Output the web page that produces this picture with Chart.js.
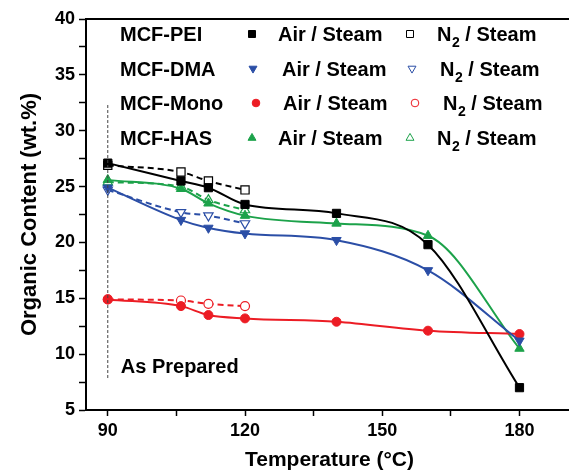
<!DOCTYPE html>
<html><head><meta charset="utf-8">
<script src="https://cdn.jsdelivr.net/npm/chart.js@4.4.1/dist/chart.umd.min.js"></script>
<style>html,body{margin:0;padding:0;background:#fff;overflow:hidden;width:569px;height:471px}canvas{display:block}</style>
</head><body>
<canvas id="c" width="580" height="471" style="width:580px;height:471px"></canvas>
<script>
// ---- data ----
const temperaturesAir = [90, 106, 112, 120, 140, 160, 180];
const temperaturesN2 = [90, 106, 112, 120];

const peiAir  = [27.1, 25.5, 24.9, 23.4, 22.6, 19.8, 7.0];
const peiN2   = [26.9, 26.3, 25.5, 24.7];
const dmaAir  = [24.9, 22.0, 21.3, 20.8, 20.2, 17.5, 11.2];
const dmaN2   = [24.7, 22.7, 22.4, 21.7];
const monoAir = [14.9, 14.3, 13.5, 13.2, 12.9, 12.1, 11.8];
const monoN2  = [14.9, 14.8, 14.5, 14.3];
const hasAir  = [25.6, 24.8, 23.5, 22.4, 21.7, 20.6, 10.5];
const hasN2   = [25.4, 25.0, 23.8, 22.9];

const sampleNames = ['MCF-PEI', 'MCF-DMA', 'MCF-Mono', 'MCF-HAS'];
const airLabel = 'Air / Steam';
const n2LabelParts = ['N', '2', ' / Steam'];

const xTickValues = [90, 105, 120, 135, 150, 165, 180];
const xLabelValues = [90, 120, 150, 180];
const yTickValues = [5, 7.5, 10, 12.5, 15, 17.5, 20, 22.5, 25, 27.5, 30, 32.5, 35, 37.5, 40];
const yLabelValues = [5, 10, 15, 20, 25, 30, 35, 40];

const asPreparedTemp = [90, 90];
const asPreparedRange = [32.3, 7.8];
const asPreparedText = 'As Prepared';
const xTitle = 'Temperature (°C)';
const yTitle = 'Organic Content (wt.%)';

// ---- styling ----
const FONT = "'Liberation Sans', Arial, Helvetica, sans-serif";
const series = [
  { name: sampleNames[0], color: '#000000', style: 'rect',     rot: 0,   r: 5.8, air: peiAir,  n2: peiN2 },
  { name: sampleNames[1], color: '#2B4EA6', style: 'triangle', rot: 180, r: 5.4, air: dmaAir,  n2: dmaN2 },
  { name: sampleNames[2], color: '#EC1C24', style: 'circle',   rot: 0,   r: 4.5, air: monoAir, n2: monoN2 },
  { name: sampleNames[3], color: '#1CA24A', style: 'triangle', rot: 0,   r: 5.4, air: hasAir,  n2: hasN2 }
];

const datasets = [];
datasets.push({
  data: asPreparedTemp.map((t, i) => ({ x: t, y: asPreparedRange[i] })),
  borderColor: '#444', borderWidth: 1, borderDash: [3, 2], pointRadius: 0, tension: 0
});
series.forEach(s => {
  datasets.push({
    label: s.name + ' ' + airLabel,
    data: temperaturesAir.map((t, i) => ({ x: t, y: s.air[i] })),
    borderColor: s.color, backgroundColor: s.color, borderWidth: 2,
    pointStyle: s.style, rotation: s.rot, pointRadius: s.r,
    pointBackgroundColor: s.color, pointBorderColor: s.color, pointBorderWidth: 1,
    cubicInterpolationMode: 'monotone'
  });
  datasets.push({
    label: s.name + ' N2 / Steam',
    data: temperaturesN2.map((t, i) => ({ x: t, y: s.n2[i] })),
    borderColor: s.color, backgroundColor: '#fff', borderWidth: 2, borderDash: [6, 4],
    pointStyle: s.style, rotation: s.rot, pointRadius: s.r,
    pointBackgroundColor: '#fff', pointBorderColor: s.color, pointBorderWidth: 1.2,
    cubicInterpolationMode: 'monotone'
  });
});

const overlay = {
  id: 'overlay',
  afterDraw(chart) {
    const ctx = chart.ctx;
    const ca = chart.chartArea;
    ctx.save();
    // top frame line
    ctx.strokeStyle = '#000'; ctx.lineWidth = 2;
    ctx.beginPath(); ctx.moveTo(ca.left - 1, ca.top); ctx.lineTo(ca.right + 2, ca.top); ctx.stroke();

    // legend
    const rowsY = [41, 75.5, 110, 145];
    const mk1 = [252, 253, 256, 252];
    const airX = [278, 282, 283, 278];
    const mk2 = [410, 412, 415, 410];
    const n2X = [437, 440, 443, 437];
    ctx.textBaseline = 'alphabetic';
    ctx.textAlign = 'left';
    series.forEach((s, i) => {
      const y = rowsY[i];
      ctx.fillStyle = '#000';
      ctx.font = 'bold 20px ' + FONT;
      ctx.fillText(s.name, 120, y);
      ctx.fillText(airLabel, airX[i], y);
      let x = n2X[i];
      ctx.fillText(n2LabelParts[0], x, y);
      x += ctx.measureText(n2LabelParts[0]).width + 0.5;
      ctx.font = 'bold 14px ' + FONT;
      ctx.fillText(n2LabelParts[1], x, y + 6);
      x += ctx.measureText(n2LabelParts[1]).width;
      ctx.font = 'bold 20px ' + FONT;
      ctx.fillText(n2LabelParts[2], x, y);
      // markers
      ctx.fillStyle = s.color; ctx.strokeStyle = s.color; ctx.lineWidth = 1;
      Chart.helpers.drawPoint(ctx, { pointStyle: s.style, rotation: s.rot, radius: s.r * 0.85, borderWidth: 1 }, mk1[i], y - 7);
      ctx.fillStyle = '#fff'; ctx.strokeStyle = s.color; ctx.lineWidth = 1;
      Chart.helpers.drawPoint(ctx, { pointStyle: s.style, rotation: s.rot, radius: s.r * 0.85, borderWidth: 1 }, mk2[i], y - 7);
    });

    // annotation
    ctx.fillStyle = '#000';
    ctx.font = 'bold 20px ' + FONT;
    ctx.fillText(asPreparedText, chart.scales.x.getPixelForValue(90) + 13, 373);
    ctx.restore();
  }
};

new Chart(document.getElementById('c'), {
  type: 'line',
  data: { datasets },
  plugins: [overlay],
  options: {
    responsive: false, animation: false, devicePixelRatio: 1,
    layout: { padding: { top: 19, right: 2, left: 0, bottom: 0 } },
    plugins: { legend: { display: false }, tooltip: { enabled: false } },
    scales: {
      x: {
        type: 'linear', min: 85.24, max: 191.7,
        afterBuildTicks: s => { s.ticks = xTickValues.map(v => ({ value: v })); },
        afterFit: s => { s.height = 61; },
        ticks: {
          autoSkip: false, maxRotation: 0, padding: 4, color: '#000',
          font: { family: FONT, size: 18, weight: 'bold' },
          callback: v => xLabelValues.includes(v) ? String(v) : ''
        },
        grid: { drawOnChartArea: false, drawTicks: true, tickLength: 6, tickWidth: 1.5, tickColor: '#000' },
        border: { display: true, color: '#000', width: 2 },
        title: { display: true, text: xTitle, color: '#000', font: { family: FONT, size: 21, weight: 'bold', lineHeight: 1 }, padding: { top: 0, bottom: 0 } }
      },
      y: {
        type: 'linear', min: 5, max: 40,
        afterBuildTicks: s => { s.ticks = yTickValues.map(v => ({ value: v })); },
        afterFit: s => { s.width = 86; },
        ticks: {
          autoSkip: false, padding: 4, color: '#000',
          font: { family: FONT, size: 18, weight: 'bold' },
          callback: v => yLabelValues.includes(v) ? String(v) : ''
        },
        grid: { drawOnChartArea: false, drawTicks: true, tickLength: 7, tickWidth: 1.5, tickColor: '#000' },
        border: { display: true, color: '#000', width: 2 },
        title: { display: true, text: yTitle, color: '#000', font: { family: FONT, size: 22, weight: 'bold', lineHeight: 1 }, padding: { top: 19, bottom: 0 } }
      }
    }
  }
});
</script>
</body></html>
